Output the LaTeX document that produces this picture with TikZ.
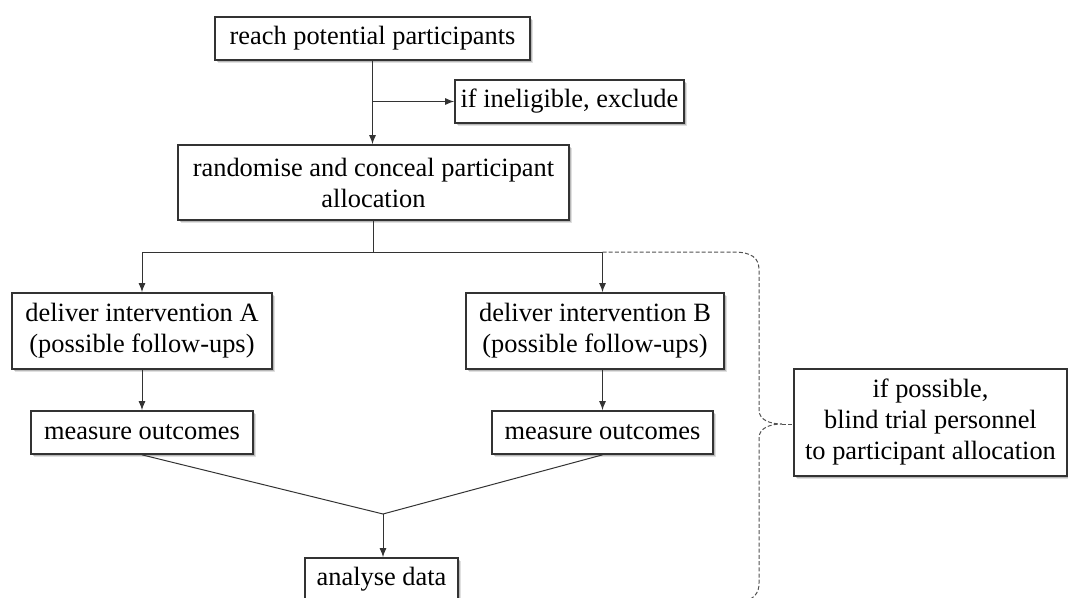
\documentclass[tikz,border=0pt]{standalone}
\usepackage{fontspec}
\setmainfont{Liberation Serif}
\usetikzlibrary{arrows.meta,shadows}
\definecolor{linegray}{HTML}{333333}
\begin{document}
\begin{tikzpicture}[x=1pt,y=-1pt,
  font=\fontsize{26.4pt}{31pt}\selectfont,
  stepbox/.style={draw=linegray, line width=1.7pt, fill=white, inner sep=0pt,
    align=center, anchor=center,
    drop shadow={shadow xshift=3pt,shadow yshift=-3pt,opacity=0.12,fill=black},
    drop shadow={shadow xshift=2pt,shadow yshift=-2pt,opacity=0.18,fill=black}},
  conn/.style={draw=linegray, line width=1pt},
  arr/.style={conn, -{Latex[length=9pt,width=7pt]}},
  brace/.style={draw=linegray!85, line width=1pt, dash pattern=on 4pt off 2.2pt}]
\useasboundingbox (0,0) rectangle (1068,597);

% boxes
\node[stepbox, minimum width=315, minimum height=43] (reach) at (372.5,38.5) {reach potential participants};
\node[stepbox, minimum width=229, minimum height=43] (excl) at (569.5,101.5) {if ineligible, exclude};
\node[stepbox, minimum width=391, minimum height=75] (rand) at (373.5,182.5) {randomise and conceal participant\\allocation};
\node[stepbox, minimum width=260, minimum height=76] (ia) at (142,331) {deliver intervention A\\(possible follow-ups)};
\node[stepbox, minimum width=258, minimum height=76] (ib) at (595,331) {deliver intervention B\\(possible follow-ups)};
\node[stepbox, minimum width=222, minimum height=43] (ma) at (142,432.5) {measure outcomes};
\node[stepbox, minimum width=221, minimum height=43] (mb) at (602.5,432.5) {measure outcomes};
\node[stepbox, minimum width=153, minimum height=43] (an) at (381.5,579.5) {analyse data};
\node[stepbox, minimum width=273, minimum height=107] (blind) at (930.5,422.5) {if possible,\\blind trial personnel\\to participant allocation};

% connectors
\draw[arr] (reach.south) -- (reach.south |- rand.north);
\draw[arr] (reach.south |- excl.west) -- (excl.west);
\coordinate (split) at (373,252);
\draw[conn] (rand.south -| split) -- (split);
\draw[arr] (split) -| (ia.north);
\draw[arr] (split) -| (mb.north |- ib.north);
\draw[arr] (ia.south) -- (ma.north);
\draw[arr] (mb.north |- ib.south) -- (mb.north);
\coordinate (join) at (383,514);
\draw[conn] (ma.south) -- (join) -- (mb.south);
\draw[arr] (join) -- (join |- an.north);

% dashed brace
\coordinate (tip) at (782,424);
\draw[brace] (mb.north |- split) -- (733,252)
  .. controls (752,252) and (759,258) .. (759,270)
  -- (759,410)
  .. controls (759,420) and (770,424) .. (tip)
  .. controls (770,424) and (759,428) .. (759,438)
  -- (759,583)
  .. controls (759,593) and (755,598) .. (742,603);
\draw[brace] (tip) -- (blind.west |- tip);
\end{tikzpicture}
\end{document}
